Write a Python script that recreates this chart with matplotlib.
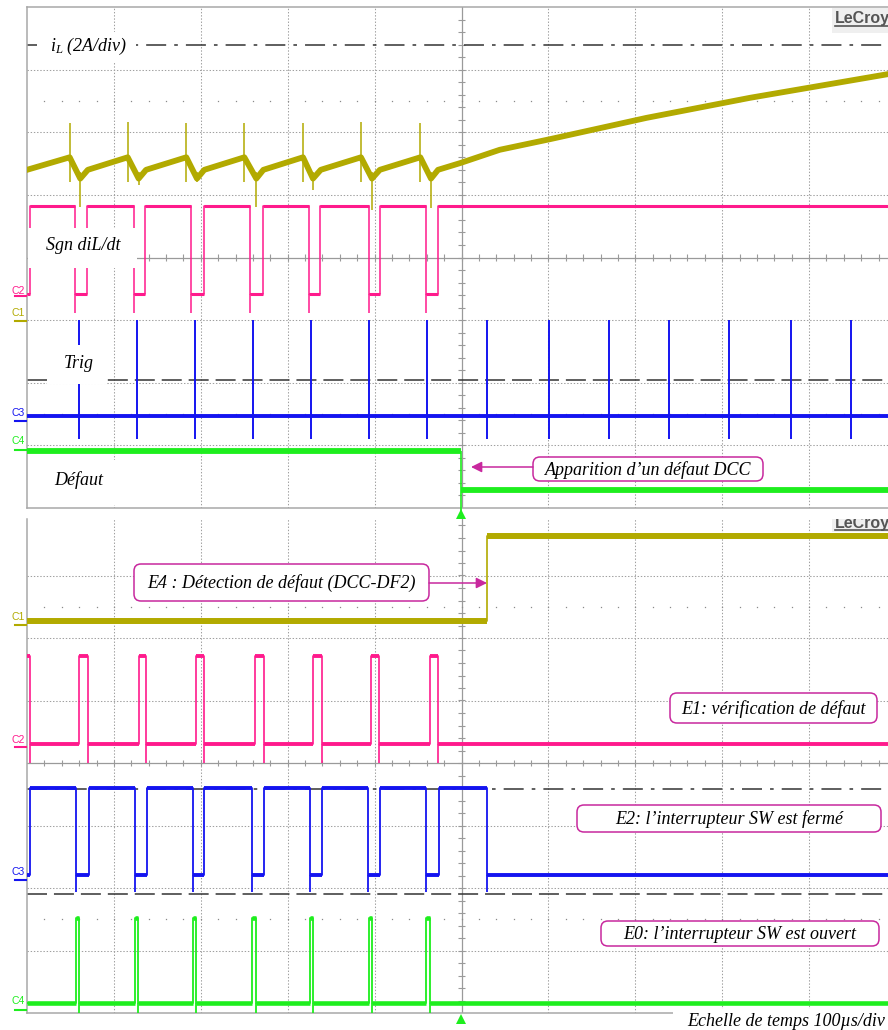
import numpy as np
import matplotlib
matplotlib.use("Agg")
import matplotlib.pyplot as plt
from matplotlib.patches import FancyBboxPatch, Rectangle, FancyArrowPatch

plt.rcParams['lines.scale_dashes'] = False
plt.rcParams['mathtext.fontset'] = 'custom'
plt.rcParams['mathtext.it'] = 'Liberation Serif:italic'
plt.rcParams['mathtext.rm'] = 'Liberation Serif'

# ---------------- data (screen divisions: x 0..10, y 0..8) ----------------
# top screen, C1 : inductor current iL
il_t = [0.00, 0.491, 0.613, 0.70, 1.159, 1.285, 1.37, 1.833, 1.956, 2.04,
        2.501, 2.639, 2.72, 3.176, 3.291, 3.38, 3.843, 3.970, 4.06,
        4.526, 4.649, 4.73, 4.99, 5.44, 6.02, 7.13, 8.32, 10.0]
il_v = [5.40, 5.60, 5.26, 5.40, 5.60, 5.26, 5.40, 5.60, 5.26, 5.40,
        5.60, 5.26, 5.40, 5.60, 5.26, 5.40, 5.60, 5.26, 5.40,
        5.60, 5.26, 5.40, 5.51, 5.72, 5.89, 6.23, 6.55, 6.95]
il_peak_t = [0.491, 1.159, 1.833, 2.501, 3.176, 3.843, 4.526]
il_peak_spike = [6.15, 6.17, 6.14, 6.15, 6.14, 6.17, 6.14]
il_dip_t = [0.613, 1.285, 1.956, 2.639, 3.291, 3.970, 4.649]
il_dip_spike = [4.81, 5.16, 5.21, 4.81, 5.08, 4.76, 4.79]

# top screen, C2 : sign of diL/dt (starts low)
sgn_edges = [0.035, 0.556, 0.690, 1.228, 1.361, 1.891, 2.033, 2.570, 2.716,
             3.242, 3.375, 3.932, 4.059, 4.595, 4.726]
sgn_lo, sgn_hi, sgn_over = 3.41, 4.83, 3.11

# top screen, C3 : trigger pulses
trig_t = [0.598, 1.266, 1.933, 2.601, 3.268, 3.936, 4.603,
          5.293, 6.007, 6.697, 7.388, 8.078, 8.792, 9.482]
trig_base, trig_bottom, trig_top = 1.47, 1.10, 3.00

# top screen, C4 : fault signal
fault_t = 4.994
fault_hi, fault_lo = 0.91, 0.29

# bottom screen, C1 : E4 fault detection
e4_t = 5.293
e4_lo, e4_hi = 6.27, 7.63

# bottom screen, C2 : E1 fault verification (starts high)
e1_edges = [0.030, 0.602, 0.698, 1.285, 1.373, 1.948, 2.033, 2.627, 2.731,
            3.291, 3.395, 3.962, 4.054, 4.641, 4.726]
e1_lo, e1_hi, e1_over = 4.30, 5.71, 4.00

# bottom screen, C3 : E2 switch closed (starts low)
e2_edges = [0.038, 0.567, 0.710, 1.246, 1.381, 1.907, 2.040, 2.589, 2.731,
            3.253, 3.395, 3.924, 4.059, 4.595, 4.738, 5.293]
e2_lo, e2_hi, e2_over = 2.21, 3.60, 1.94

# bottom screen, C4 : E0 switch open (starts low)
e0_edges = [0.567, 0.602, 1.246, 1.274, 1.907, 1.945, 2.593, 2.632,
            3.253, 3.291, 3.939, 3.970, 4.595, 4.634]
e0_lo, e0_hi, e0_over = 0.16, 1.52, 0.00

# reference marker lines
top_dashdot, top_dashed = 7.40, 2.04
bot_dashdot, bot_dashed = 3.58, 1.90

# ---------------- style ----------------
YELLOW = '#B2AA00'
PINK = '#FF1A8C'
BLUE = '#1414F0'
GREEN = '#1EEE1E'
MAG = '#C8289E'
FRAME = '#A8A8A8'
GRID = '#A0A0A0'
CENTER = '#9A9A9A'
MARK = '#333333'

W, H = 888, 1030
fig = plt.figure(figsize=(W / 100, H / 100), dpi=100)


def ax_rect(l, t, r, b):
    return [l / W, 1 - b / H, (r - l) / W, (b - t) / H]


ax1 = fig.add_axes(ax_rect(27, 7, 896, 508))
ax2 = fig.add_axes(ax_rect(27, 519, 896, 1013))
ax1.set_ylim(0, 8)
ax2.set_ylim(0, (1013 - 519) / 62.5)


def style(ax, ytop, top_visible):
    ax.set_xlim(0, 10)
    ax.set_xticks([])
    ax.set_yticks([])
    ax.patch.set_facecolor('white')
    for s in ax.spines.values():
        s.set_color(FRAME)
        s.set_linewidth(1.1)
    ax.spines['right'].set_visible(False)
    ax.spines['top'].set_visible(top_visible)
    for gx in range(1, 10):
        if gx != 5:
            ax.axvline(gx, color=GRID, lw=0.75, ls=(0, (1, 1.3)), zorder=1)
    for gy in range(1, 8):
        if gy != 4:
            ax.axhline(gy, color=GRID, lw=0.75, ls=(0, (1, 1.3)), zorder=1)
    ax.axvline(5, color=CENTER, lw=0.9, zorder=1)
    ax.axhline(4, color=CENTER, lw=0.9, zorder=1)
    yt = np.arange(0.2, ytop, 0.2)
    ax.hlines(yt, 5 - 0.035, 5 + 0.035, color=CENTER, lw=0.8, zorder=1)
    xt = np.arange(0.2, 10, 0.2)
    ax.vlines(xt, 4 - 0.05, 4 + 0.05, color=CENTER, lw=0.8, zorder=1)
    for yd in (6.5, 1.5):
        ax.plot(xt, [yd] * len(xt), ls='none', marker='s', ms=0.9,
                mew=0, color='#8A8A8A', zorder=1)


style(ax1, 8, True)
style(ax2, 7.9, False)


def square_path(edges, start_hi, lo, hi):
    t = [0.0]
    v = [hi if start_hi else lo]
    state = start_hi
    for e in edges:
        t += [e, e]
        v += [hi if state else lo, lo if state else hi]
        state = not state
    t.append(10.0)
    v.append(hi if state else lo)
    return t, v


def draw_square(ax, edges, start_hi, lo, hi, color, lw_h, lw_v, over=None, z=5):
    t, v = square_path(edges, start_hi, lo, hi)
    ax.plot(t, v, color=color, lw=lw_v, zorder=z)
    bounds = [0.0] + list(edges) + [10.0]
    levels = []
    state = start_hi
    for _ in range(len(bounds) - 1):
        levels.append(hi if state else lo)
        state = not state
    ax.hlines(levels, bounds[:-1], bounds[1:], color=color, lw=lw_h, zorder=z)
    if over is not None:
        falls = [e for i, e in enumerate(edges) if (i % 2 == 0) == start_hi]
        ax.vlines(falls, over, lo, color=color, lw=lw_v, zorder=z)


# marker lines
ax1.axhline(top_dashdot, color=MARK, lw=1.1, ls=(0, (14.4, 5.8, 2.6, 5.8)), zorder=2)
ax1.axhline(top_dashed, color=MARK, lw=1.1, ls=(0, (14.4, 5.0)), zorder=2)
ax2.axhline(bot_dashdot, color=MARK, lw=1.1, ls=(0, (14.4, 5.8, 2.6, 5.8)), zorder=2)
ax2.axhline(bot_dashed, color=MARK, lw=1.1, ls=(0, (14.4, 5.0)), zorder=2)

# ---- top traces ----
ax1.plot(il_t, il_v, color=YELLOW, lw=4.2, zorder=4, solid_joinstyle='round')
ax1.vlines(il_peak_t, 5.2, il_peak_spike, color=YELLOW, lw=1.1, zorder=4)
ax1.vlines(il_dip_t, il_dip_spike, 5.36, color=YELLOW, lw=1.1, zorder=4)

draw_square(ax1, sgn_edges, False, sgn_lo, sgn_hi, PINK, 2.2, 1.1, over=sgn_over)

ax1.hlines(trig_base, 0, 10, color=BLUE, lw=2.8, zorder=5)
ax1.vlines(trig_t, trig_bottom, trig_top, color=BLUE, lw=1.4, zorder=5)

ax1.hlines([fault_hi, fault_lo], [0, fault_t], [fault_t, 10], color=GREEN, lw=4.2, zorder=5)
ax1.vlines([fault_t], -0.1, fault_hi, color=GREEN, lw=1.2, zorder=5, clip_on=False)

# ---- bottom traces ----
ax2.plot([0, e4_t, e4_t, 10], [e4_lo, e4_lo, e4_hi, e4_hi], color=YELLOW, lw=1.2, zorder=4)
ax2.hlines([e4_lo, e4_hi], [0, e4_t], [e4_t, 10], color=YELLOW, lw=4.3, zorder=4)

draw_square(ax2, e1_edges, True, e1_lo, e1_hi, PINK, 2.8, 1.2, over=e1_over)
draw_square(ax2, e2_edges, False, e2_lo, e2_hi, BLUE, 2.8, 1.3, over=e2_over)
draw_square(ax2, e0_edges, False, e0_lo, e0_hi, GREEN, 3.3, 1.3, over=e0_over)

# LeCroy (cropped by the top of the bottom screen)
ax2.add_patch(Rectangle((9.265, 7.70), 1.0, 0.4, fc='#EFEFEF', ec='none', zorder=6))
ax2.text(9.30, 7.76, 'LeCroy', family='Liberation Sans', fontweight='bold',
         fontsize=11.5, color='#555555', ha='left', va='baseline', zorder=7,
         clip_on=True)
ax2.plot([9.30, 10], [7.73, 7.73], color='#555555', lw=1.2, zorder=7)

# ---------------- overlay in pixel coordinates ----------------
ov = fig.add_axes([0, 0, 1, 1], zorder=10)
ov.set_xlim(0, W)
ov.set_ylim(H, 0)
ov.axis('off')
ov.patch.set_alpha(0)

SERIF = dict(family='Liberation Serif', style='italic', fontsize=13, color='black')

# LeCroy top
ov.add_patch(Rectangle((832, 8), 60, 25, fc='#EFEFEF', ec='none'))
ov.text(835, 23.5, 'LeCroy', family='Liberation Sans', fontweight='bold',
        fontsize=11.5, color='#555555', ha='left', va='baseline')
ov.plot([835, 888], [25.5, 25.5], color='#555555', lw=1.2)

# white label areas
for (x0, y0, w, h) in [(37, 32, 99, 30), (28, 228, 109, 40),
                       (47, 345, 60, 39), (28, 460, 107, 45),
                       (673, 1009, 215, 21)]:
    ov.add_patch(Rectangle((x0, y0), w, h, fc='white', ec='none'))

ov.text(50, 46, r'$i_L$ (2A/div)', ha='left', va='center', **SERIF)
ov.text(46, 246, 'Sgn diL/dt', ha='left', va='center', **SERIF)
ov.text(64, 364, 'Trig', ha='left', va='center', **SERIF)
ov.text(54, 480, 'Défaut', ha='left', va='center', **SERIF)
ov.text(885, 1021, 'Echelle de temps 100µs/div', ha='right', va='center', **SERIF)


def ebox(x0, y0, x1, y1, text):
    ov.add_patch(FancyBboxPatch((x0, y0), x1 - x0, y1 - y0,
                                boxstyle='round,pad=0,rounding_size=7',
                                fc='white', ec=MAG, lw=1.1))
    ov.text((x0 + x1) / 2, (y0 + y1) / 2 + 1, text, ha='center', va='center', **SERIF)


ebox(533, 457, 763, 481, 'Apparition d’un défaut DCC')
ebox(134, 564, 429, 601, 'E4 : Détection de défaut (DCC-DF2)')
ebox(670, 693, 877, 723, 'E1: vérification de défaut')
ebox(577, 805, 881, 832, 'E2: l’interrupteur SW est fermé')
ebox(601, 921, 879, 946, 'E0: l’interrupteur SW est ouvert')

for (xa, xb, yy) in [(533, 471, 467), (429, 487, 583)]:
    ov.add_patch(FancyArrowPatch((xa, yy), (xb, yy), arrowstyle='-|>',
                                 mutation_scale=16, color=MAG, lw=1.1,
                                 shrinkA=0, shrinkB=0))

# channel labels on the left
chan = [('C2', PINK, 291, 296), ('C1', YELLOW, 313, 321),
        ('C3', BLUE, 413, 421), ('C4', GREEN, 441, 450),
        ('C1', YELLOW, 617, 625), ('C2', PINK, 740, 747),
        ('C3', BLUE, 872, 880), ('C4', GREEN, 1001, 1010)]
for name, col, ty, my in chan:
    ov.text(18, ty, name, family='Liberation Sans', fontsize=7.5, color=col,
            ha='center', va='center')
    ov.plot([15, 26], [my, my], color=col, lw=1.5)

# trigger position markers
ov.plot([461, 461], [514, 1019], ls='none', marker='^', ms=7.5, color=GREEN, mew=0)

fig.savefig('out.png', dpi=100)
